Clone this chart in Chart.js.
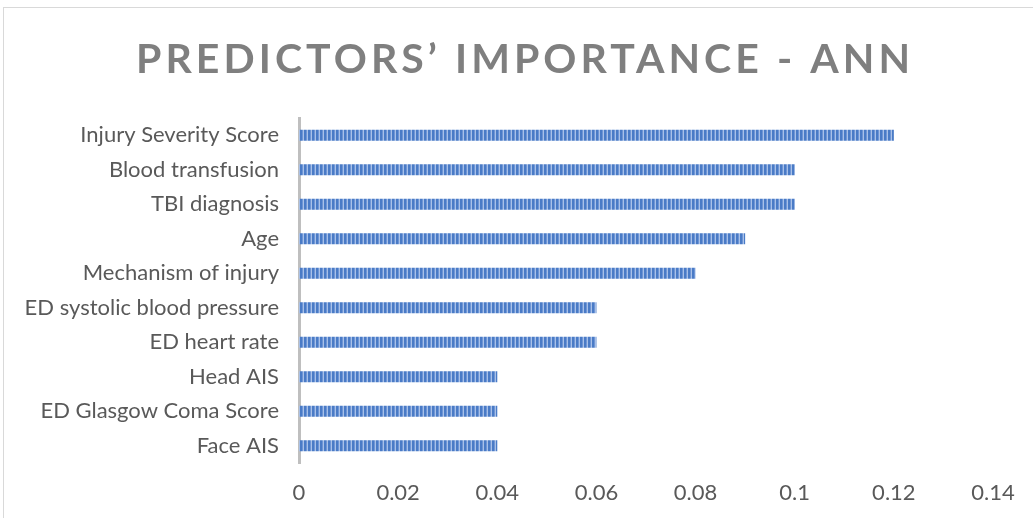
<!DOCTYPE html>
<html>
<head>
<meta charset="utf-8">
<script src="https://cdn.jsdelivr.net/npm/chart.js@4"></script>
<style>
  html, body { margin: 0; padding: 0; background: #fff; }
  #wrap { width: 1033px; height: 518px; position: relative; }
</style>
</head>
<body>
<div id="wrap"><canvas id="chart" width="1033" height="518"></canvas></div>
<script>
const predictors = [
    "Injury Severity Score",
    "Blood transfusion",
    "TBI diagnosis",
    "Age",
    "Mechanism of injury",
    "ED systolic blood pressure",
    "ED heart rate",
    "Head AIS",
    "ED Glasgow Coma Score",
    "Face AIS",
];
const importance = [0.12, 0.1, 0.1, 0.09, 0.08, 0.06, 0.06, 0.04, 0.04, 0.04];
const xTicks = [0, 0.02, 0.04, 0.06, 0.08, 0.1, 0.12, 0.14];
const chartTitle = "PREDICTORS\u2019 IMPORTANCE - ANN";

const labelFont = "Lato, 'Open Sans', sans-serif";

// vertical stripe fill like the Excel pattern
function stripePattern(ctx) {
    const c = document.createElement("canvas");
    c.width = 4;
    c.height = 2;
    const p = c.getContext("2d");
    p.fillStyle = "#4a7bc6";
    p.fillRect(0, 0, 2, 2);
    p.fillStyle = "#6f96d6";
    p.fillRect(2, 0, 1, 2);
    p.fillStyle = "#a9c1e8";
    p.fillRect(3, 0, 1, 2);
    return ctx.createPattern(c, "repeat");
}

const frameAndTitle = {
    id: "frameAndTitle",
    beforeDraw(chart) {
        const c = chart.ctx;
        c.save();
        c.strokeStyle = "#d9d9d9";
        c.lineWidth = 1;
        c.strokeRect(3.5, 7.5, 1100, 600);
        c.restore();
    },
    afterDraw(chart) {
        const c = chart.ctx;
        c.save();
        c.font = "bold 41px " + labelFont;
        c.fillStyle = "#7f7f7f";
        c.textBaseline = "alphabetic";
        c.textAlign = "left";
        c.letterSpacing = "0px";
        const plain = c.measureText(chartTitle).width;
        const spacing = (774 - plain) / (chartTitle.length - 1);
        c.letterSpacing = spacing + "px";
        c.fillText(chartTitle, 136, 73);
        c.restore();
    },
};

const ctx = document.getElementById("chart").getContext("2d");

new Chart(ctx, {
    type: "bar",
    data: {
        labels: predictors,
        datasets: [
            {
                label: "Importance",
                data: importance,
                backgroundColor: stripePattern(ctx),
                borderWidth: 0,
                barPercentage: 0.64,
                categoryPercentage: 0.5,
            },
        ],
    },
    options: {
        indexAxis: "y",
        responsive: false,
        animation: false,
        layout: {
            padding: { top: 118, right: 40, bottom: 0, left: 0 },
        },
        plugins: {
            legend: { display: false },
            tooltip: { enabled: false },
            title: { display: false },
        },
        scales: {
            x: {
                min: 0,
                max: 0.14,
                afterBuildTicks: (scale) => {
                    scale.ticks = xTicks.map((v) => ({ value: v }));
                },
                afterFit: (scale) => {
                    scale.height = 55;
                },
                grid: { display: false, drawTicks: false },
                border: { display: false },
                ticks: {
                    padding: 17,
                    color: "#595959",
                    font: { family: labelFont, size: 22 },
                    callback: (v) => String(Math.round(v * 100) / 100),
                },
            },
            y: {
                afterFit: (scale) => {
                    scale.width = 299;
                },
                grid: { display: false, drawTicks: false },
                border: { display: true, color: "#bfbfbf", width: 3 },
                ticks: {
                    padding: 20,
                    color: "#595959",
                    font: { family: labelFont, size: 22 },
                },
            },
        },
    },
    plugins: [frameAndTitle],
});
</script>
</body>
</html>
